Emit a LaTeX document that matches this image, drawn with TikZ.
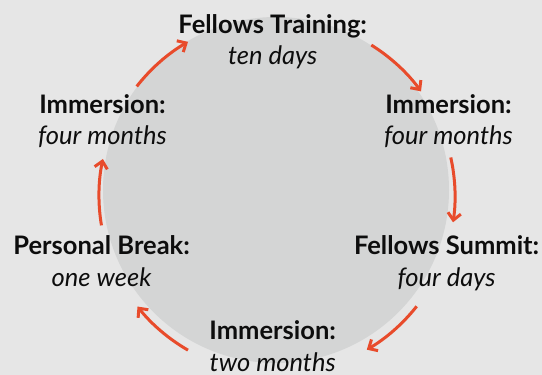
\documentclass[tikz,border=0pt]{standalone}
\usepackage{fontspec}
\setmainfont{Lato}
\usepackage{tikz}
\usetikzlibrary{arrows.meta}
\definecolor{bgcol}{RGB}{230,230,230}
\definecolor{discol}{RGB}{212,213,213}
\definecolor{arrcol}{RGB}{232,75,43}

\begin{document}
\begin{tikzpicture}[>={Straight Barb[length=7bp,width=13bp]},line join=bevel,
  phase/.style={align=center,anchor=base,inner sep=0pt,text=black!95,
    font=\fontsize{25.6}{32}\selectfont},
  cyc/.style={arrcol,line width=3bp,->}]
%%
\fill [bgcol] (0bp,0bp) rectangle (542bp,375bp);
  \fill [discol] (276bp,185bp) circle (173bp);
  \node (node_0) at (272.7bp,310bp) [phase] {\textbf{Fellows Training:}\\\textit{ten days}};
  \node (node_1) at (448.5bp,230bp) [phase] {\textbf{Immersion:}\\\textit{four months}};
  \node (node_2) at (446.6bp,88.3bp) [phase] {\textbf{Fellows Summit:}\\\textit{four days}};
  \node (node_3) at (272.7bp,3.3bp) [phase] {\textbf{Immersion:}\\\textit{two months}};
  \node (node_4) at (101.6bp,88.3bp) [phase] {\textbf{Personal Break:}\\\textit{one week}};
  \node (node_5) at (102.5bp,230bp) [phase] {\textbf{Immersion:}\\\textit{four months}};
  \coordinate (hub) at (277bp,179bp);
  \path (hub) ++(142:178bp) coordinate (arr_0);
  \path (hub) ++(58:178bp) coordinate (arr_1);
  \path (hub) ++(12.5:178bp) coordinate (arr_2);
  \path (hub) ++(-38.3:178bp) coordinate (arr_3);
  \path (hub) ++(-120:178bp) coordinate (arr_4);
  \path (hub) ++(189.5:178bp) coordinate (arr_5);
  \draw [cyc] (arr_0) arc [start angle=142,end angle=120,radius=178bp];
  \draw [cyc] (arr_1) arc [start angle=58,end angle=36,radius=178bp];
  \draw [cyc] (arr_2) arc [start angle=12.5,end angle=-8.5,radius=178bp];
  \draw [cyc] (arr_3) arc [start angle=-38.3,end angle=-59.7,radius=178bp];
  \draw [cyc] (arr_4) arc [start angle=-120,end angle=-141.6,radius=178bp];
  \draw [cyc] (arr_5) arc [start angle=189.5,end angle=168,radius=178bp];
%
\end{tikzpicture}
\end{document}
